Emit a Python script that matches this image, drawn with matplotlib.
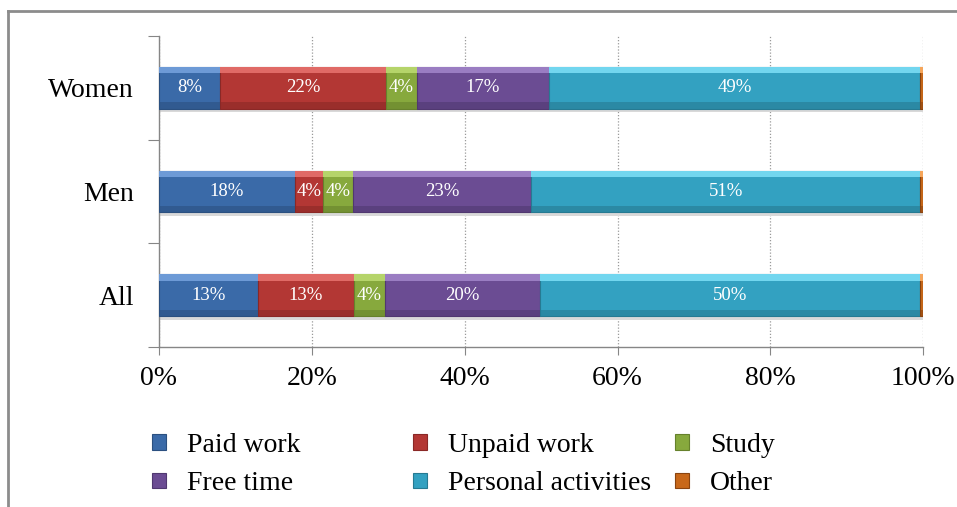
import matplotlib
matplotlib.use('Agg')
import matplotlib.pyplot as plt
from matplotlib.patches import Patch
from matplotlib.lines import Line2D
import numpy as np

plt.rcParams['font.family'] = ['Liberation Serif', 'DejaVu Serif']

groups = ['All', 'Men', 'Women']
series = ['Paid work', 'Unpaid work', 'Study', 'Free time', 'Personal activities', 'Other']
paid = [12.9, 17.8, 8.0]
unpaid = [12.6, 3.6, 21.7]
study = [4.1, 4.0, 4.0]
free_time = [20.3, 23.3, 17.3]
personal = [49.7, 50.9, 48.6]
other = [0.4, 0.4, 0.4]
xticks = [0, 20, 40, 60, 80, 100]

colors = ['#3a6aa8', '#b33734', '#87a93d', '#6b4c93', '#33a1c1', '#c8681a']
light = ['#6d9ad6', '#e06a66', '#b5d46a', '#9a7dc2', '#72d6ef', '#f5a55a']
dark = ['#2b5080', '#8a2826', '#66812c', '#503870', '#267a92', '#8a4410']

fig = plt.figure(figsize=(9.57, 5.07), dpi=100)
ax = fig.add_axes([0.1661, 0.3156, 0.7987, 0.6134])

y = np.arange(len(groups))
h = 0.40
left = np.zeros(len(groups))
for name, vals, c, lc, dc in zip(series, [paid, unpaid, study, free_time, personal, other], colors, light, dark):
    vals = np.array(vals)
    # soft shadow under the bar
    ax.barh(y - 0.035, vals, height=h, left=left, color='#d9d9d9', zorder=2)
    ax.barh(y, vals, height=h, left=left, color=c, edgecolor=dc, linewidth=0.8, zorder=3)
    ax.barh(y + h / 2 - 0.03, vals, height=0.06, left=left, color=lc, zorder=4)
    ax.barh(y - h / 2 + 0.03, vals, height=0.06, left=left, color=dc, alpha=0.6, zorder=4)
    for yi, l, v in zip(y, left, vals):
        if v >= 1:
            ax.text(l + v / 2, yi, '{:.0f}%'.format(v), ha='center', va='center',
                    color='white', fontsize=13.5, zorder=5)
    left = left + vals

ax.set_xlim(0, 100)
ax.set_ylim(-0.5, 2.5)
ax.set_xticks(xticks)
ax.set_xticklabels(['{}%'.format(t) for t in xticks], fontsize=20)
ax.tick_params(axis='x', length=6, color='#868686', pad=8)

ax.set_yticks([-0.5, 0.5, 1.5, 2.5])
ax.set_yticklabels([])
ax.set_yticks(y, minor=True)
ax.set_yticklabels(groups, minor=True, fontsize=20)
ax.tick_params(axis='y', which='major', length=8, color='#868686')
ax.tick_params(axis='y', which='minor', length=0, pad=18)

ax.grid(axis='x', color='#9a9a9a', linestyle=(0, (1, 1.5)), linewidth=0.9, zorder=0)
ax.set_axisbelow(True)
for s in ['top', 'right']:
    ax.spines[s].set_visible(False)
for s in ['left', 'bottom']:
    ax.spines[s].set_color('#868686')
    ax.spines[s].set_linewidth(1.0)

# legend laid out row by row in equal-width columns, one legend per column
handles = [Patch(facecolor=c, edgecolor=d, linewidth=0.8) for c, d in zip(colors, dark)]
col_x = [152, 413, 675]
for i, x0 in enumerate(col_x):
    leg = fig.legend([handles[i], handles[i + 3]], [series[i], series[i + 3]],
                     loc='upper left', bbox_to_anchor=(x0 / 957, (507 - 433) / 507),
                     frameon=False, fontsize=20, handlelength=0.5, handleheight=0.5,
                     handletextpad=0.75, labelspacing=0.48, borderpad=0, borderaxespad=0)

# chart area border (only the left and top edges are in view)
fig.add_artist(Line2D([8 / 957, 8 / 957], [0, (507 - 11) / 507], transform=fig.transFigure,
                      color='#8c8c8c', linewidth=2))
fig.add_artist(Line2D([8 / 957, 1], [(507 - 11) / 507, (507 - 11) / 507], transform=fig.transFigure,
                      color='#8c8c8c', linewidth=2))

plt.savefig('out.png', dpi=100)
